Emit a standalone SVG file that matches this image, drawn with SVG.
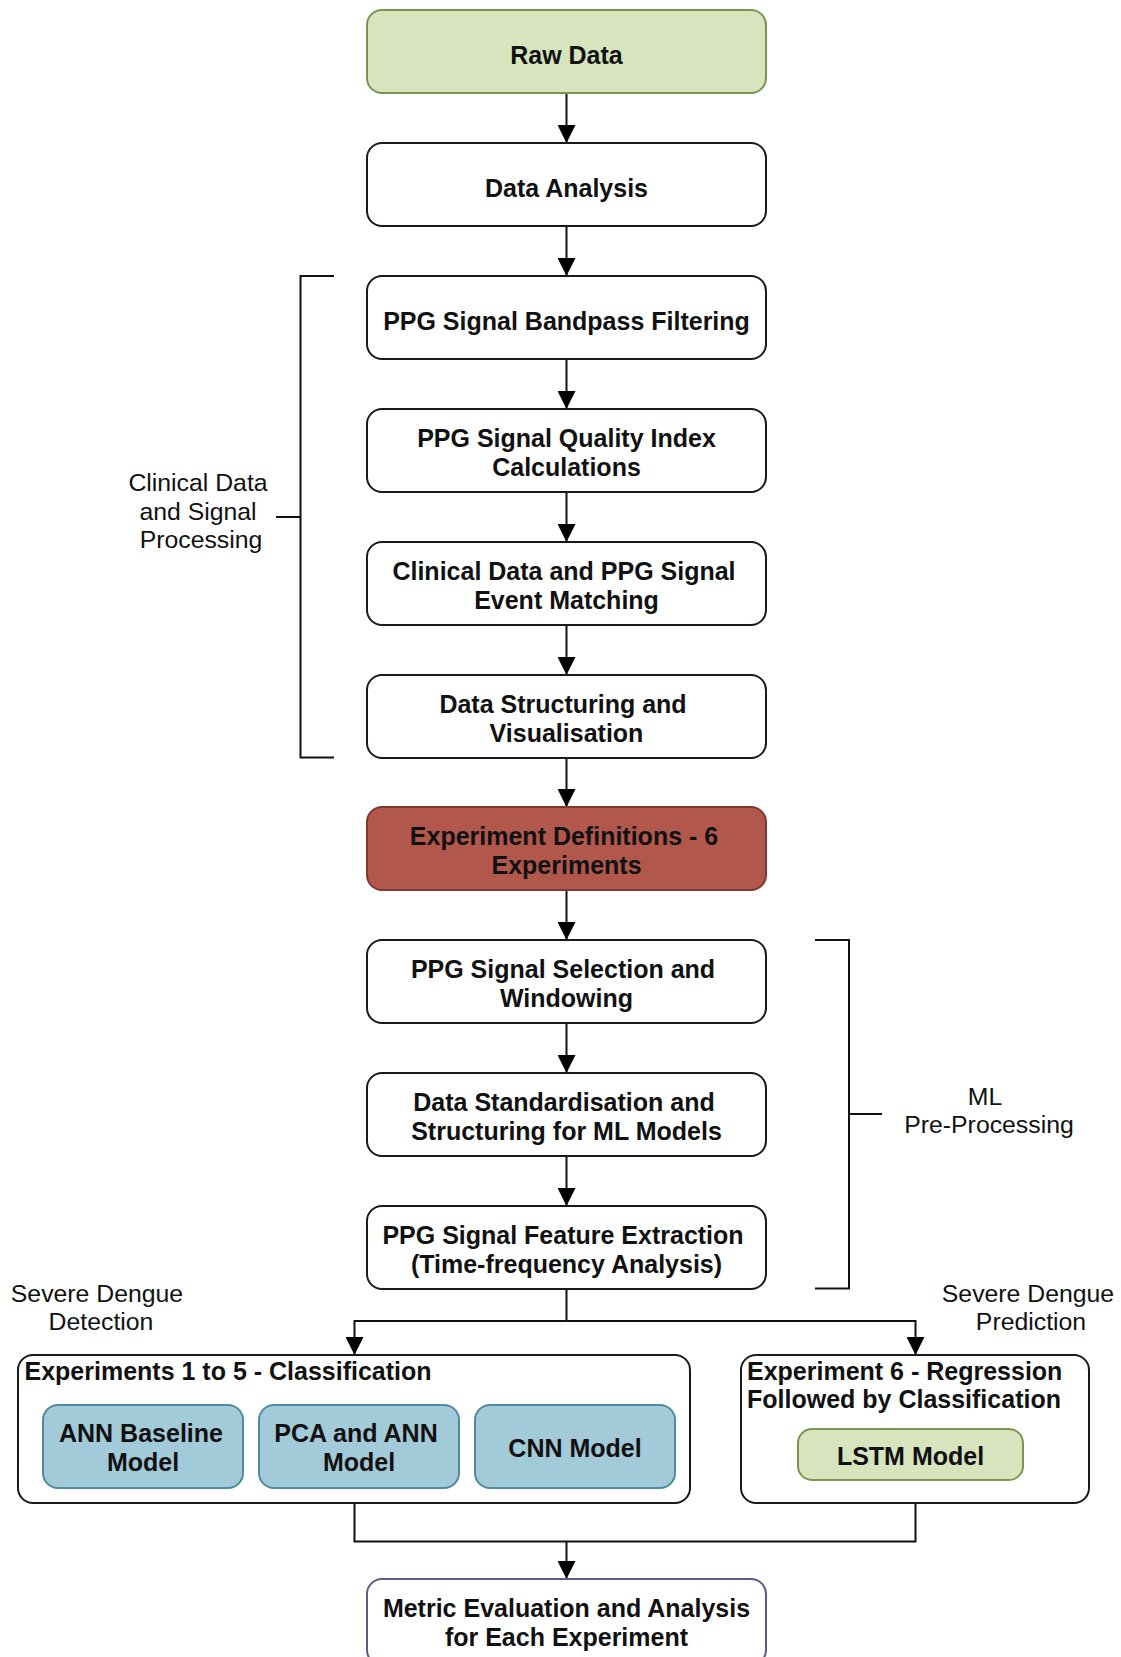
<svg xmlns="http://www.w3.org/2000/svg" width="1121" height="1657" viewBox="0 0 1121 1657">
<defs>
<style>
.box{fill:#ffffff;stroke:#1a1a1a;stroke-width:2}
.green{fill:#d8e4bd;stroke:#7a9550;stroke-width:2}
.red{fill:#b2574c;stroke:#7c3a32;stroke-width:2}
.blue{fill:#a3cad9;stroke:#4f8ba0;stroke-width:2}
.metric{fill:#ffffff;stroke:#5c5a86;stroke-width:2}
.t{font-family:"Liberation Sans",Arial,sans-serif;font-weight:bold;font-size:25px;fill:#111;text-anchor:middle}
.tl{font-family:"Liberation Sans",Arial,sans-serif;font-weight:bold;font-size:25px;fill:#111;text-anchor:start}
.lab{font-family:"Liberation Sans",Arial,sans-serif;font-size:24.8px;fill:#111;text-anchor:middle}
.ln{fill:none;stroke:#111;stroke-width:2}
</style>
<marker id="arr" markerWidth="18" markerHeight="18" refX="18" refY="9" orient="auto" markerUnits="userSpaceOnUse" viewBox="0 0 18 18">
<path d="M0,0 L18,9 L0,18 z" fill="#000"/>
</marker>
</defs>
<rect width="1121" height="1657" fill="#ffffff"/>

<g id="connectors">
<line class="ln" x1="566.5" y1="93" x2="566.5" y2="143" marker-end="url(#arr)"/>
<line class="ln" x1="566.5" y1="226" x2="566.5" y2="276" marker-end="url(#arr)"/>
<line class="ln" x1="566.5" y1="359" x2="566.5" y2="409" marker-end="url(#arr)"/>
<line class="ln" x1="566.5" y1="492" x2="566.5" y2="542" marker-end="url(#arr)"/>
<line class="ln" x1="566.5" y1="625" x2="566.5" y2="675" marker-end="url(#arr)"/>
<line class="ln" x1="566.5" y1="758" x2="566.5" y2="807" marker-end="url(#arr)"/>
<line class="ln" x1="566.5" y1="890" x2="566.5" y2="940" marker-end="url(#arr)"/>
<line class="ln" x1="566.5" y1="1023" x2="566.5" y2="1073" marker-end="url(#arr)"/>
<line class="ln" x1="566.5" y1="1156" x2="566.5" y2="1206" marker-end="url(#arr)"/>
<polyline class="ln" points="566.5,1289 566.5,1321"/>
<polyline class="ln" points="566.5,1321 354.5,1321 354.5,1355" marker-end="url(#arr)"/>
<polyline class="ln" points="566.5,1321 915.5,1321 915.5,1355" marker-end="url(#arr)"/>
<polyline class="ln" points="354.5,1503 354.5,1541.5 915.5,1541.5 915.5,1503"/>
<line class="ln" x1="566.5" y1="1541.5" x2="566.5" y2="1579" marker-end="url(#arr)"/>
</g>

<g id="bracket-clinical">
<polyline class="ln" points="334,276 300.5,276 300.5,757.5 334,757.5"/>
<line class="ln" x1="276" y1="517" x2="300.5" y2="517"/>
<text class="lab" x="198" y="491">Clinical Data</text>
<text class="lab" x="198" y="520">and Signal</text>
<text class="lab" x="201" y="548">Processing</text>
</g>

<g id="bracket-ml">
<polyline class="ln" points="815,940 849,940 849,1288.5 815,1288.5"/>
<line class="ln" x1="849" y1="1114" x2="882" y2="1114"/>
<text class="lab" x="985" y="1105">ML</text>
<text class="lab" x="989" y="1133">Pre-Processing</text>
</g>

<g id="raw-data">
<rect class="green" x="367" y="10" width="399" height="83" rx="15"/>
<text class="t" x="566.5" y="64">Raw Data</text>
</g>
<g id="data-analysis">
<rect class="box" x="367" y="143" width="399" height="83" rx="15"/>
<text class="t" x="566.5" y="197">Data Analysis</text>
</g>
<g id="bandpass">
<rect class="box" x="367" y="276" width="399" height="83" rx="15"/>
<text class="t" x="566.5" y="330">PPG Signal Bandpass Filtering</text>
</g>
<g id="sqi">
<rect class="box" x="367" y="409" width="399" height="83" rx="15"/>
<text class="t" x="566.5" y="447">PPG Signal Quality Index</text>
<text class="t" x="566.5" y="476">Calculations</text>
</g>
<g id="event-matching">
<rect class="box" x="367" y="542" width="399" height="83" rx="15"/>
<text class="t" x="564" y="580">Clinical Data and PPG Signal</text>
<text class="t" x="566.5" y="609">Event Matching</text>
</g>
<g id="structuring">
<rect class="box" x="367" y="675" width="399" height="83" rx="15"/>
<text class="t" x="563" y="713">Data Structuring and</text>
<text class="t" x="566.5" y="742">Visualisation</text>
</g>
<g id="experiment-definitions">
<rect class="red" x="367" y="807" width="399" height="83" rx="15"/>
<text class="t" x="564" y="845">Experiment Definitions - 6</text>
<text class="t" x="566.5" y="874">Experiments</text>
</g>
<g id="selection">
<rect class="box" x="367" y="940" width="399" height="83" rx="15"/>
<text class="t" x="563" y="978">PPG Signal Selection and</text>
<text class="t" x="566.5" y="1007">Windowing</text>
</g>
<g id="standardisation">
<rect class="box" x="367" y="1073" width="399" height="83" rx="15"/>
<text class="t" x="564" y="1111">Data Standardisation and</text>
<text class="t" x="566.5" y="1140">Structuring for ML Models</text>
</g>
<g id="feature-extraction">
<rect class="box" x="367" y="1206" width="399" height="83" rx="15"/>
<text class="t" x="563" y="1244">PPG Signal Feature Extraction</text>
<text class="t" x="566.5" y="1273">(Time-frequency Analysis)</text>
</g>

<g id="label-detection">
<text class="lab" x="97" y="1302">Severe Dengue</text>
<text class="lab" x="101" y="1330">Detection</text>
</g>
<g id="label-prediction">
<text class="lab" x="1028" y="1302">Severe Dengue</text>
<text class="lab" x="1031" y="1330">Prediction</text>
</g>

<g id="classification-group">
<rect class="box" x="18" y="1355" width="672" height="148" rx="15"/>
<text class="tl" x="24.5" y="1380">Experiments 1 to 5 - Classification</text>
</g>
<g id="ann-baseline">
<rect class="blue" x="43" y="1405" width="200" height="83" rx="15"/>
<text class="t" x="141" y="1442">ANN Baseline</text>
<text class="t" x="143" y="1471">Model</text>
</g>
<g id="pca-ann">
<rect class="blue" x="259" y="1405" width="200" height="83" rx="15"/>
<text class="t" x="356" y="1442">PCA and ANN</text>
<text class="t" x="359" y="1471">Model</text>
</g>
<g id="cnn">
<rect class="blue" x="475" y="1405" width="200" height="83" rx="15"/>
<text class="t" x="575" y="1457">CNN Model</text>
</g>

<g id="regression-group">
<rect class="box" x="741" y="1355" width="348" height="148" rx="15"/>
<text class="tl" x="747" y="1380">Experiment 6 - Regression</text>
<text class="tl" x="747" y="1408">Followed by Classification</text>
</g>
<g id="lstm">
<rect class="green" x="798" y="1429" width="225" height="51" rx="14"/>
<text class="t" x="910.5" y="1465">LSTM Model</text>
</g>

<g id="metric-evaluation">
<rect class="metric" x="367" y="1579" width="399" height="86" rx="15"/>
<text class="t" x="566.5" y="1617">Metric Evaluation and Analysis</text>
<text class="t" x="566.5" y="1646">for Each Experiment</text>
</g>
</svg>
